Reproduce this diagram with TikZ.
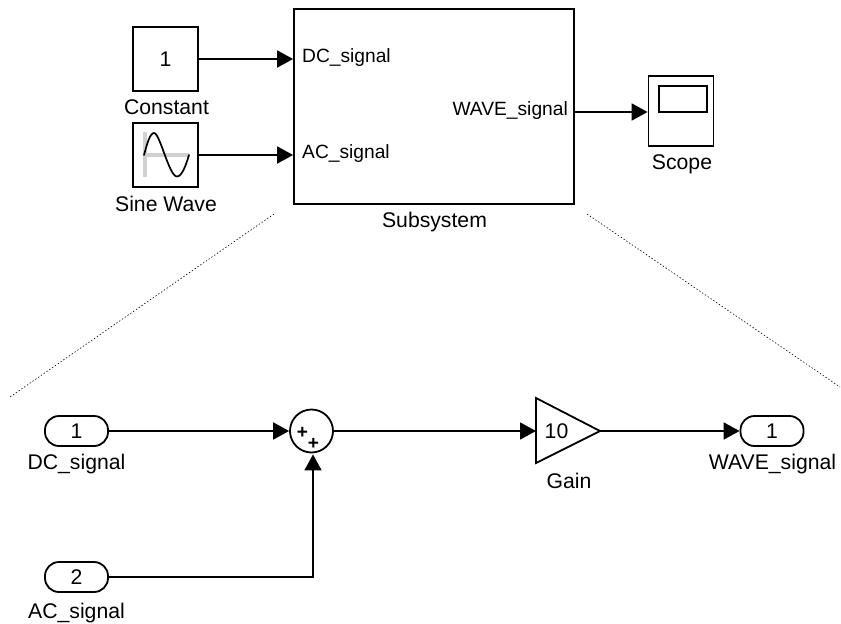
\documentclass[tikz,border=0pt]{standalone}
\usepackage{fontspec}
\setmainfont{Liberation Sans}
\usetikzlibrary{arrows.meta,calc}
\tikzset{
  blk/.style={draw=black,line width=1.8pt,fill=white,minimum width=65pt,minimum height=64pt,inner sep=0pt,font=\fontsize{21.2}{24}\selectfont},
  lbl/.style={inner sep=0pt,font=\fontsize{21.2}{24}\selectfont,text=black},
  plbl/.style={inner sep=0pt,font=\fontsize{19.2}{22}\selectfont,text=black},
  port/.style={draw=black,line width=1.8pt,rounded corners=14pt,minimum width=63pt,minimum height=30pt,inner sep=0pt,font=\fontsize{21.2}{24}\selectfont},
  sig/.style={draw=black,line width=1.8pt,-{Triangle[length=16pt,width=17pt,black]}},
  zoomline/.style={draw=black,line width=0.6pt,dash pattern=on 1.4pt off 2pt},
  plus/.style={inner sep=0pt,font=\fontsize{19}{19}\bfseries\selectfont}
}
\begin{document}
\begin{tikzpicture}[x=1pt,y=-1pt]
\useasboundingbox (0,0) rectangle (841,624);
% top level
\node[blk] (const) at (165.5,59) {1};
\node[lbl] (constl) at (166.5,107.5) {Constant};
\node[blk] (sine) at (165.5,155) {};
\node[lbl] (sinel) at (166,203.5) {Sine Wave};
\node[blk,minimum width=280pt,minimum height=195pt] (sub) at (434,106.5) {};
\node[plbl,anchor=west] (subdc) at (302,58) {DC\_signal};
\node[plbl,anchor=west] (subac) at (302,154) {AC\_signal};
\node[plbl,anchor=east] (subw) at (568,111) {WAVE\_signal};
\node[lbl] (subl) at (434.5,222.5) {Subsystem};
\node[blk,minimum width=65pt,minimum height=70pt] (scope) at (681,111) {};
\node[draw=black,line width=1.8pt,minimum width=48pt,minimum height=26pt,inner sep=0pt] (screen) at (683,99) {};
\node[lbl] (scopel) at (682,164) {Scope};
% sine icon
\fill[black!18] (143,132) rectangle (147,177);
\fill[black!18] (143,153) rectangle (189,157);
\draw[line width=1.7pt,line cap=round] (144,155) .. controls (147,144) and (150,133) .. (154,133)
  .. controls (160,133) and (169,176.5) .. (177,176.5) .. controls (182,176.5) and (186,165) .. (189,155);
\draw[sig] (const.east) -- (sub.west |- const.east);
\draw[sig] (sine.east) -- (sub.west |- sine.east);
\coordinate (wstart) at (574,112);
\draw[sig] (wstart) -- (scope.west |- wstart);
% zoom lines
\coordinate (za) at (274,214); \coordinate (zb) at (10,397);
\coordinate (zc) at (587,214); \coordinate (zd) at (840,387);
\draw[zoomline] (za) -- (zb);
\draw[zoomline] (zc) -- (zd);
% subsystem
\node[port] (in1) at (76.5,431) {1};
\node[lbl] (in1l) at (76.5,464) {DC\_signal};
\node[port] (in2) at (76.5,577) {2};
\node[lbl] (in2l) at (76.5,613) {AC\_signal};
\node[circle,draw=black,line width=1.8pt,minimum size=43pt,inner sep=0pt] (sum) at (311.5,431) {};
\node[plus] (p1) at (302.5,433) {+};
\node[plus] (p2) at (313.5,444) {+};
\coordinate (g1) at (536,398); \coordinate (g2) at (600,431); \coordinate (g3) at (536,463);
\draw[line width=1.8pt,line join=miter] (g1) -- (g2) -- (g3) -- cycle;
\node[lbl] (gainv) at (556.5,431) {10};
\node[lbl] (gainl) at (569,480.5) {Gain};
\node[port] (out) at (772,431) {1};
\node[lbl] (outl) at (772.5,464) {WAVE\_signal};
\draw[sig] (in1.east) -- (in1.east -| sum.west);
\draw[sig] (in2.east) -| ($(sum.south)+(1.5,1)$);
\coordinate (gs) at (505,431);
\draw[line width=1.8pt] (sum.east) -- (gs);
\draw[sig] (gs) -- (g1 |- gs);
\draw[sig] (g2) -- (out.west);
\end{tikzpicture}
\end{document}
